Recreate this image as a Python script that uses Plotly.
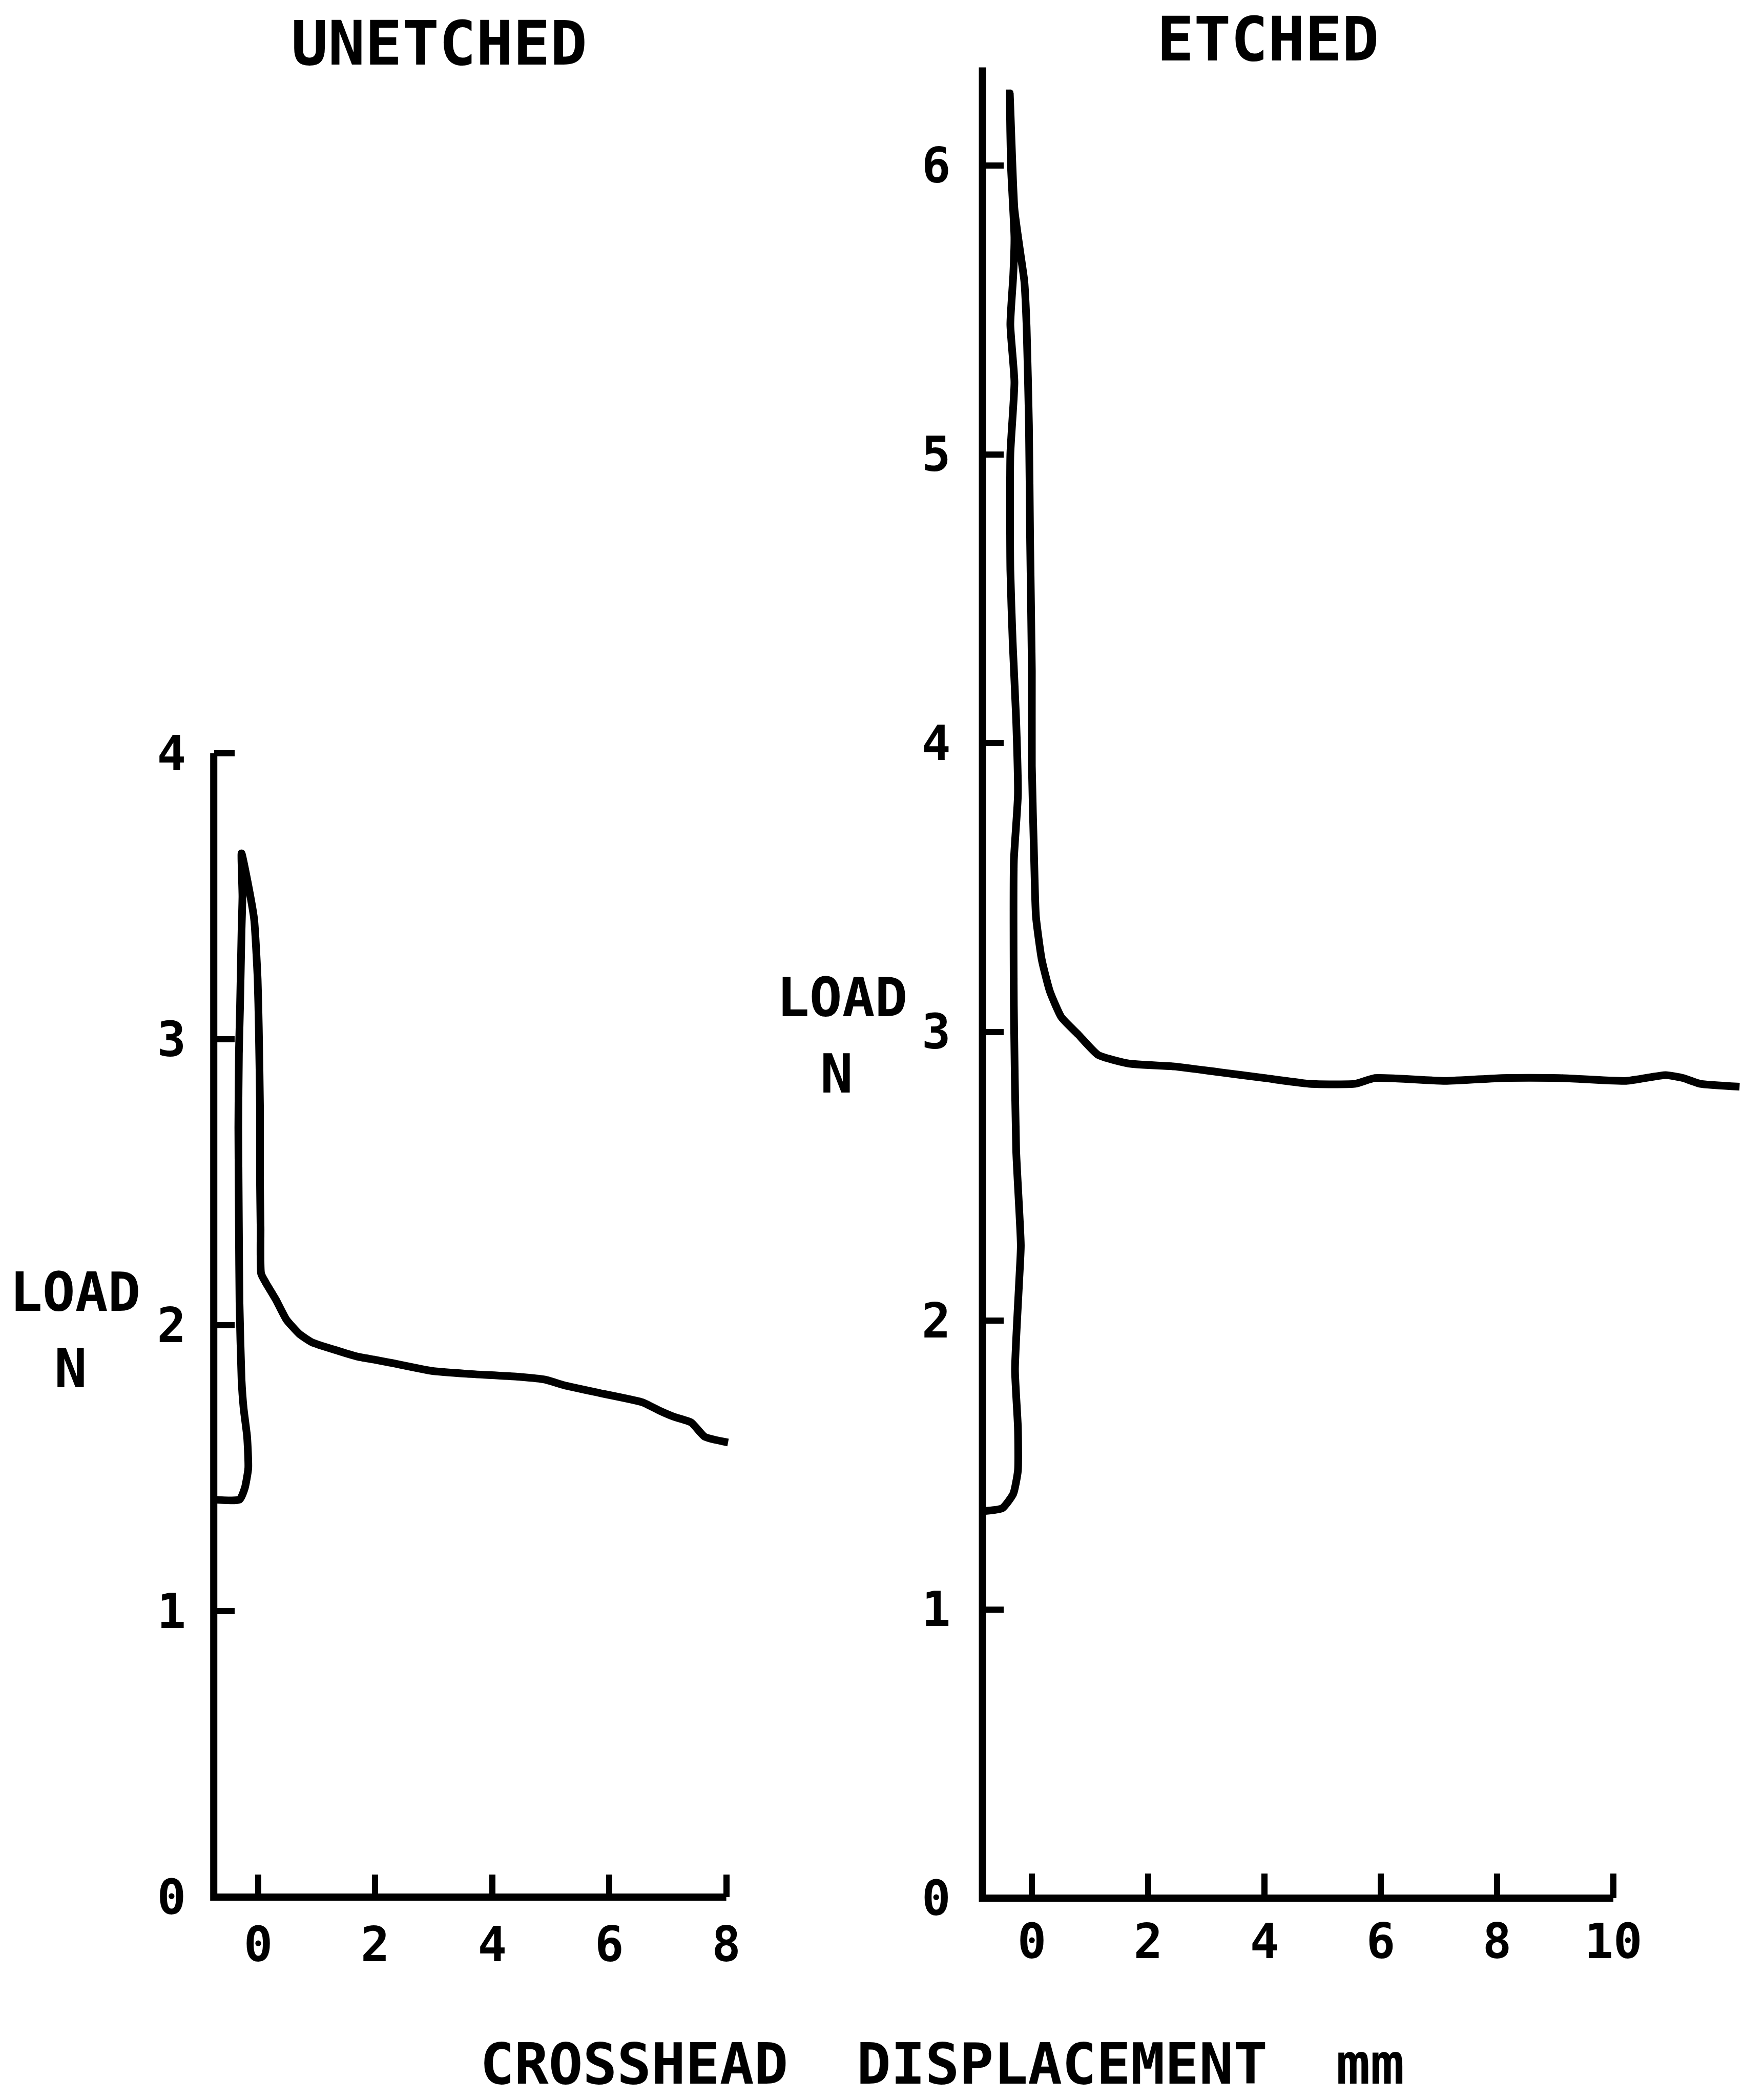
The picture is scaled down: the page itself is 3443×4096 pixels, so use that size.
import plotly.graph_objects as go

# ---------------- data ----------------
unetched_x = [-0.76, -0.32, -0.23, -0.17, -0.19, -0.25, -0.285, -0.32, -0.33, -0.34, -0.33, -0.31,
              -0.285, -0.27, -0.285, -0.19, -0.07, -0.01, 0.01, 0.03, 0.03, 0.04, 0.05, 0.125,
              0.30, 0.48, 0.70, 0.92, 1.37, 1.70, 1.97, 2.23, 2.97, 3.57, 4.43, 4.90, 5.23, 5.90,
              6.57, 6.87, 7.10, 7.40, 7.63, 8.03]
unetched_y = [1.39, 1.39, 1.43, 1.50, 1.61, 1.71, 1.81, 2.08, 2.34, 2.69, 2.95, 3.12,
              3.38, 3.50, 3.65, 3.56, 3.42, 3.21, 3.04, 2.77, 2.51, 2.34, 2.18, 2.15,
              2.09, 2.02, 1.97, 1.94, 1.91, 1.89, 1.88, 1.87, 1.84, 1.83, 1.82, 1.81, 1.79, 1.76,
              1.73, 1.70, 1.68, 1.66, 1.61, 1.59]

etched_x = [-0.85, -0.51, -0.32, -0.24, -0.24, -0.29, -0.22, -0.19, -0.27, -0.31, -0.31, -0.24,
            -0.27, -0.33, -0.37, -0.37, -0.30, -0.37, -0.32, -0.30, -0.36, -0.38,
            -0.30, -0.20, -0.13, -0.09, -0.05, -0.03, 0.00, 0.00, 0.04, 0.07, 0.17, 0.31, 0.51,
            0.80, 1.14, 1.67, 2.45, 3.23, 4.00, 4.78, 5.56, 5.90, 7.11, 8.09, 9.06, 10.22, 10.90,
            11.20, 11.49, 12.17]
etched_y = [1.34, 1.35, 1.40, 1.48, 1.63, 1.83, 2.13, 2.26, 2.59, 3.09, 3.59, 3.82,
            4.08, 4.35, 4.60, 5.00, 5.25, 5.45, 5.62, 5.75, 6.00, 6.25,
            5.85, 5.70, 5.60, 5.44, 5.10, 4.70, 4.25, 3.92, 3.59, 3.40, 3.25, 3.14, 3.05,
            2.99, 2.92, 2.89, 2.88, 2.86, 2.84, 2.82, 2.82, 2.84, 2.83, 2.84, 2.84, 2.83, 2.85,
            2.84, 2.82, 2.81]

left_xticks = [0, 2, 4, 6, 8]
left_yticks = [0, 1, 2, 3, 4]
right_xticks = [0, 2, 4, 6, 8, 10]
right_yticks = [0, 1, 2, 3, 4, 5, 6]

# axis extents (hand-drawn axes)
left_axis_x, left_axis_xend, left_axis_ytop = -0.76, 8.0, 4.0
right_axis_x, right_axis_xend, right_axis_ytop = -0.85, 10.0, 6.34

# ---------------- layout geometry (pixels of a 3443 x 4096 page) ----------------
W, H = 3443, 4096
L_X0, L_XPU, L_Y0, L_YPU = 504.0, 114.2, 3702.0, 558.0
R_X0, R_XPU, R_Y0, R_YPU = 2014.0, 113.5, 3704.0, 563.5
L_XR, L_YR = [-0.95, 8.3], [-0.1, 4.12]
R_XR, R_YR = [-1.05, 12.5], [-0.1, 6.45]


def xdom(x0, ppu, r):
    return [(x0 + ppu * r[0]) / W, (x0 + ppu * r[1]) / W]


def ydom(y0, ppu, r):
    return [1 - (y0 - ppu * r[0]) / H, 1 - (y0 - ppu * r[1]) / H]


LW_AXIS = 14
LW_CURVE = 15
TICKW = 12
FONT = "DejaVu Sans Mono"
tickfont = dict(family=FONT, size=94, color="black", weight="bold")

fig = go.Figure()
fig.add_trace(go.Scatter(x=unetched_x, y=unetched_y, mode="lines",
                         line=dict(color="black", width=LW_CURVE, shape="spline", smoothing=0.5),
                         xaxis="x", yaxis="y", showlegend=False, hoverinfo="skip"))
fig.add_trace(go.Scatter(x=etched_x, y=etched_y, mode="lines",
                         line=dict(color="black", width=LW_CURVE, shape="spline", smoothing=0.5),
                         xaxis="x2", yaxis="y2", showlegend=False, hoverinfo="skip"))

common = dict(showgrid=False, zeroline=False, showline=False, ticks="inside",
              tickcolor="black", tickwidth=TICKW, tickfont=tickfont, anchor="free",
              fixedrange=True)

fig.update_layout(
    width=W, height=H, margin=dict(l=0, r=0, t=0, b=0),
    paper_bgcolor="white", plot_bgcolor="white",
    xaxis=dict(domain=xdom(L_X0, L_XPU, L_XR), range=L_XR, tickvals=left_xticks,
               position=1 - L_Y0 / H, ticklen=44, ticklabelstandoff=30, **common),
    yaxis=dict(domain=ydom(L_Y0, L_YPU, L_YR), range=L_YR, tickvals=left_yticks,
               position=(L_X0 + L_XPU * left_axis_x) / W, ticklen=40,
               ticklabelstandoff=54, **common),
    xaxis2=dict(domain=xdom(R_X0, R_XPU, R_XR), range=R_XR, tickvals=right_xticks,
                position=1 - R_Y0 / H, ticklen=48, ticklabelstandoff=22, **common),
    yaxis2=dict(domain=ydom(R_Y0, R_YPU, R_YR), range=R_YR, tickvals=right_yticks,
                position=(R_X0 + R_XPU * right_axis_x) / W, ticklen=40,
                ticklabelstandoff=62, **common),
)

# axis lines (drawn in data coordinates)
fig.add_shape(type="path", xref="x", yref="y",
              path=f"M {left_axis_x},{left_axis_ytop} L {left_axis_x},0 L {left_axis_xend},0",
              line=dict(color="black", width=LW_AXIS))
fig.add_shape(type="path", xref="x2", yref="y2",
              path=f"M {right_axis_x},{right_axis_ytop} L {right_axis_x},0 L {right_axis_xend},0",
              line=dict(color="black", width=LW_AXIS))


def ann(text, px, py, size, yanchor="middle"):
    fig.add_annotation(text=text, x=px / W, y=1 - py / H, xref="paper", yref="paper",
                       xanchor="center", yanchor=yanchor, showarrow=False,
                       font=dict(family=FONT, size=size, color="black", weight="bold"))


ann("UNETCHED", 857, 84, 120)
ann("ETCHED", 2474, 76, 120)
ann("LOAD", 146, 2521, 106)
ann("N", 138, 2670, 106)
ann("LOAD", 1643, 1946, 106)
ann("N", 1633, 2095, 106)
ann("CROSSHEAD  DISPLACEMENT  mm", 1839, 4094, 111, yanchor="bottom")

fig.write_html("out.html")
